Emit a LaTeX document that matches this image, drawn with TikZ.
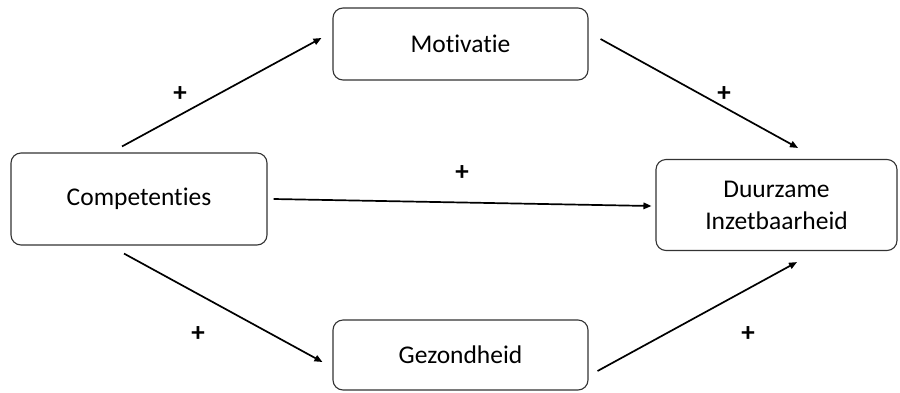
\documentclass[tikz,border=0pt]{standalone}
\usepackage{fontspec}
\setmainfont{Carlito}[Ligatures=NoCommon]
\usetikzlibrary{arrows.meta}
\begin{document}
\begin{tikzpicture}[x=1pt,y=-1pt,>={Triangle[length=8pt,width=6.5pt]},
	box/.style={draw=black!80,line width=1.1pt,rounded corners=10pt,align=center,font=\fontsize{25.5}{32}\selectfont},
	link/.style={->,line width=1.7pt},
	plus/.style={font=\fontsize{27}{30}\selectfont\bfseries}]

\useasboundingbox (0,0) rectangle (900,392);

% The boxes
\node[box,minimum width=255pt,minimum height=72pt] (mot) at (460.5,44) {Motivatie};
\node[box,minimum width=256pt,minimum height=92pt] (comp) at (139,199) {Competenties};
\node[box,minimum width=241pt,minimum height=91pt] (duur) at (776.5,205) {Duurzame\\Inzetbaarheid};
\node[box,minimum width=255pt,minimum height=70pt] (gez) at (460.5,355) {Gezondheid};

% The arrows
\draw[link] ([shift={(-17,-6)}]comp.north) -- ([shift={(-11,-6)}]mot.west);
\draw[link] ([shift={(12,-5)}]mot.east) -- ([shift={(21.5,-11)}]duur.north);
\draw[link] ([shift={(6,0)}]comp.east) -- ([shift={(-4,1)}]duur.west);
\draw[link] ([shift={(-15,8)}]comp.south) -- ([shift={(-10,7)}]gez.west);
\draw[link] ([shift={(9,16)}]gez.east) -- ([shift={(20.5,11)}]duur.south);

% The signs
\foreach \px/\py [count=\i] in {180/94,724/94,462/173,198/334,748/334}
{
	\node[plus] (plus\i) at (\px,\py) {+};
}

\end{tikzpicture}
\end{document}
